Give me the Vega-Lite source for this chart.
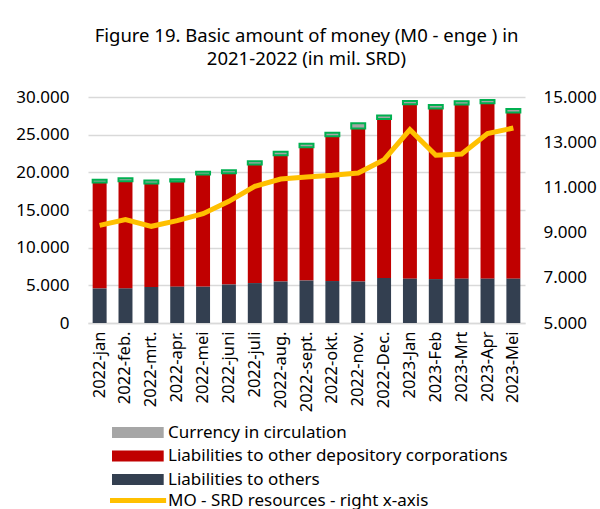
{
  "$schema": "https://vega.github.io/schema/vega-lite/v6.json",
  "width": 437,
  "height": 226,
  "autosize": "none",
  "padding": {"left": 88, "top": 97, "right": 75, "bottom": 186},
  "background": "white",
  "title": {
    "text": ["Figure 19. Basic amount of money (M0 - enge )  in", "2021-2022 (in mil. SRD)"],
    "font": "Noto Sans",
    "fontSize": 18.5,
    "fontWeight": "normal",
    "color": "#000000",
    "lineHeight": 22.5,
    "anchor": "middle",
    "offset": 20
  },
  "config": {
    "view": {"stroke": null},
    "font": "Noto Sans",
    "axis": {"labelFont": "Noto Sans", "labelColor": "#000000", "labelFontSize": 17, "ticks": false}
  },
  "datasets": {
    "bars": [
      {"month": "2022-jan", "series": "Liabilities to others", "value": 4600},
      {"month": "2022-jan", "series": "Liabilities to other depository corporations", "value": 14050},
      {"month": "2022-jan", "series": "Currency in circulation", "value": 350},
      {"month": "2022-feb.", "series": "Liabilities to others", "value": 4600},
      {"month": "2022-feb.", "series": "Liabilities to other depository corporations", "value": 14230},
      {"month": "2022-feb.", "series": "Currency in circulation", "value": 400},
      {"month": "2022-mrt.", "series": "Liabilities to others", "value": 4770},
      {"month": "2022-mrt.", "series": "Liabilities to other depository corporations", "value": 13750},
      {"month": "2022-mrt.", "series": "Currency in circulation", "value": 400},
      {"month": "2022-apr.", "series": "Liabilities to others", "value": 4860},
      {"month": "2022-apr.", "series": "Liabilities to other depository corporations", "value": 13930},
      {"month": "2022-apr.", "series": "Currency in circulation", "value": 300},
      {"month": "2022-mei", "series": "Liabilities to others", "value": 4860},
      {"month": "2022-mei", "series": "Liabilities to other depository corporations", "value": 14850},
      {"month": "2022-mei", "series": "Currency in circulation", "value": 360},
      {"month": "2022-juni", "series": "Liabilities to others", "value": 5130},
      {"month": "2022-juni", "series": "Liabilities to other depository corporations", "value": 14760},
      {"month": "2022-juni", "series": "Currency in circulation", "value": 400},
      {"month": "2022-juli", "series": "Liabilities to others", "value": 5300},
      {"month": "2022-juli", "series": "Liabilities to other depository corporations", "value": 15740},
      {"month": "2022-juli", "series": "Currency in circulation", "value": 440},
      {"month": "2022-aug.", "series": "Liabilities to others", "value": 5530},
      {"month": "2022-aug.", "series": "Liabilities to other depository corporations", "value": 16750},
      {"month": "2022-aug.", "series": "Currency in circulation", "value": 440},
      {"month": "2022-sept.", "series": "Liabilities to others", "value": 5660},
      {"month": "2022-sept.", "series": "Liabilities to other depository corporations", "value": 17680},
      {"month": "2022-sept.", "series": "Currency in circulation", "value": 440},
      {"month": "2022-okt.", "series": "Liabilities to others", "value": 5570},
      {"month": "2022-okt.", "series": "Liabilities to other depository corporations", "value": 19230},
      {"month": "2022-okt.", "series": "Currency in circulation", "value": 440},
      {"month": "2022-nov.", "series": "Liabilities to others", "value": 5530},
      {"month": "2022-nov.", "series": "Liabilities to other depository corporations", "value": 20280},
      {"month": "2022-nov.", "series": "Currency in circulation", "value": 700},
      {"month": "2022-Dec.", "series": "Liabilities to others", "value": 5970},
      {"month": "2022-Dec.", "series": "Liabilities to other depository corporations", "value": 21120},
      {"month": "2022-Dec.", "series": "Currency in circulation", "value": 450},
      {"month": "2023-Jan", "series": "Liabilities to others", "value": 5920},
      {"month": "2023-Jan", "series": "Liabilities to other depository corporations", "value": 23120},
      {"month": "2023-Jan", "series": "Currency in circulation", "value": 440},
      {"month": "2023-Feb", "series": "Liabilities to others", "value": 5830},
      {"month": "2023-Feb", "series": "Liabilities to other depository corporations", "value": 22630},
      {"month": "2023-Feb", "series": "Currency in circulation", "value": 490},
      {"month": "2023-Mrt", "series": "Liabilities to others", "value": 5920},
      {"month": "2023-Mrt", "series": "Liabilities to other depository corporations", "value": 23080},
      {"month": "2023-Mrt", "series": "Currency in circulation", "value": 440},
      {"month": "2023-Apr", "series": "Liabilities to others", "value": 5920},
      {"month": "2023-Apr", "series": "Liabilities to other depository corporations", "value": 23250},
      {"month": "2023-Apr", "series": "Currency in circulation", "value": 440},
      {"month": "2023-Mei", "series": "Liabilities to others", "value": 5920},
      {"month": "2023-Mei", "series": "Liabilities to other depository corporations", "value": 22010},
      {"month": "2023-Mei", "series": "Currency in circulation", "value": 490}
    ],
    "m0": [
      {"month": "2022-jan", "series": "MO - SRD resources - right x-axis", "value": 9322},
      {"month": "2022-feb.", "series": "MO - SRD resources - right x-axis", "value": 9573},
      {"month": "2022-mrt.", "series": "MO - SRD resources - right x-axis", "value": 9278},
      {"month": "2022-apr.", "series": "MO - SRD resources - right x-axis", "value": 9528},
      {"month": "2022-mei", "series": "MO - SRD resources - right x-axis", "value": 9838},
      {"month": "2022-juni", "series": "MO - SRD resources - right x-axis", "value": 10384},
      {"month": "2022-juli", "series": "MO - SRD resources - right x-axis", "value": 11048},
      {"month": "2022-aug.", "series": "MO - SRD resources - right x-axis", "value": 11372},
      {"month": "2022-sept.", "series": "MO - SRD resources - right x-axis", "value": 11460},
      {"month": "2022-okt.", "series": "MO - SRD resources - right x-axis", "value": 11534},
      {"month": "2022-nov.", "series": "MO - SRD resources - right x-axis", "value": 11638},
      {"month": "2022-Dec.", "series": "MO - SRD resources - right x-axis", "value": 12228},
      {"month": "2023-Jan", "series": "MO - SRD resources - right x-axis", "value": 13555},
      {"month": "2023-Feb", "series": "MO - SRD resources - right x-axis", "value": 12420},
      {"month": "2023-Mrt", "series": "MO - SRD resources - right x-axis", "value": 12480},
      {"month": "2023-Apr", "series": "MO - SRD resources - right x-axis", "value": 13378},
      {"month": "2023-Mei", "series": "MO - SRD resources - right x-axis", "value": 13630}
    ]
  },
  "layer": [
    {
      "data": {"name": "bars"},
      "mark": {"type": "bar", "strokeWidth": 2},
      "encoding": {
        "x": {
          "field": "month", "type": "ordinal", "sort": null,
          "scale": {"paddingInner": 0.46, "paddingOuter": 0.18},
          "axis": {"title": null, "labelAngle": -90, "labelPadding": 8, "domainColor": "#d9d9d9", "domainWidth": 1.5, "labelFontSize": 16.5}
        },
        "y": {
          "field": "value", "type": "quantitative", "stack": "zero",
          "scale": {"domain": [0, 30000], "nice": false},
          "axis": {"title": null, "values": [0, 5000, 10000, 15000, 20000, 25000, 30000], "labelExpr": "replace(format(datum.value, ','), ',', '.')", "domain": false, "gridColor": "#d9d9d9", "gridWidth": 1.5, "labelPadding": 19, "labelFontSize": 17}
        },
        "fill": {
          "field": "series", "type": "nominal",
          "scale": {"domain": ["Currency in circulation", "Liabilities to other depository corporations", "Liabilities to others"], "range": ["#a6a6a6", "#c00000", "#333f50"]},
          "legend": {
            "title": null, "orient": "none", "legendX": 21, "legendY": 327, "symbolType": "M-1,-1H8.4V1H-1Z", "symbolSize": 121,
            "labelFontSize": 17, "labelFont": "Noto Sans", "labelColor": "#000000", "labelOffset": 42, "rowPadding": 5.5, "labelLimit": 500
          }
        },
        "stroke": {
          "condition": {"test": "datum.series === 'Currency in circulation'", "value": "#00b050"},
          "value": null
        },
        "order": {"field": "series", "sort": "descending"}
      }
    },
    {
      "data": {"name": "m0"},
      "mark": {"type": "line", "strokeWidth": 5},
      "encoding": {
        "x": {"field": "month", "type": "ordinal", "sort": null},
        "y": {
          "field": "value", "type": "quantitative",
          "scale": {"domain": [5000, 15000], "nice": false},
          "axis": {"title": null, "orient": "right", "values": [5000, 7000, 9000, 11000, 13000, 15000], "labelExpr": "replace(format(datum.value, ','), ',', '.')", "domain": false, "grid": false, "labelPadding": 18, "labelFontSize": 17}
        },
        "stroke": {
          "field": "series", "type": "nominal",
          "scale": {"range": ["#ffc000"]},
          "legend": {
            "title": null, "orient": "none", "legendX": 19, "legendY": 395, "symbolType": "M-1,-0.45H9.2V0.45H-1Z", "symbolSize": 121,
            "labelFontSize": 17, "labelFont": "Noto Sans", "labelColor": "#000000", "labelOffset": 44, "labelLimit": 500,
            "encode": {"symbols": {"update": {"fill": {"value": "#ffc000"}, "strokeWidth": {"value": 0}}}}
          }
        }
      }
    }
  ],
  "resolve": {"scale": {"y": "independent"}}
}
